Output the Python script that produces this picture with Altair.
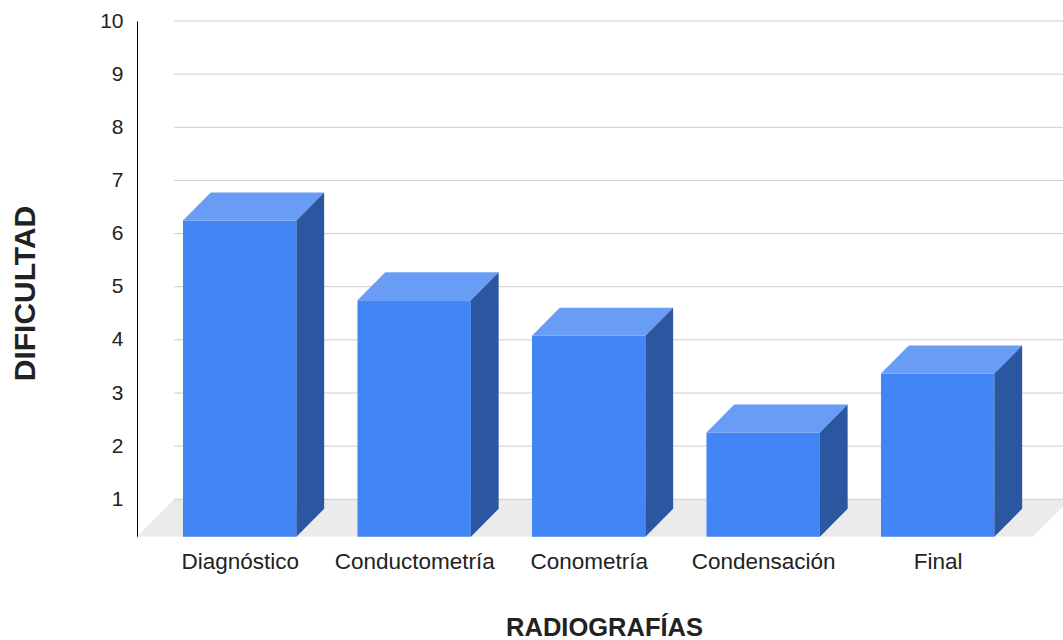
import json

import altair as alt
import pandas as pd

# Data
categories = ["Diagnóstico", "Conductometría", "Conometría", "Condensación", "Final"]
values = [5.95, 4.45, 3.78, 1.96, 3.07]
y_ticks = [1, 2, 3, 4, 5, 6, 7, 8, 9, 10]

# Oblique "3D" geometry, expressed in data units of the two scales
X_MIN, X_MAX = -0.5885, 4.7181   # category index range of the plot
FLOOR = 0.296                    # front edge of the floor on the value scale
BACK = 1.0                       # back edge of the floor / foot of the back wall
HALF = 0.325                     # half width of a bar's front face
DX, DY = 0.159, 0.527            # depth of a bar (right, up)
FDX = 0.213                      # horizontal depth of the floor
FLOOR_LEFT, FLOOR_RIGHT = X_MIN, 4.546

FONT = "Liberation Sans"
TEXT = "#222222"
FRONT_C, TOP_C, SIDE_C = "#4285f4", "#689cf5", "#2b56a0"

xs = alt.Scale(domain=[X_MIN, X_MAX], nice=False, zero=False)
ys = alt.Scale(domain=[FLOOR, 10], nice=False, zero=False)

label_expr = json.dumps(categories, ensure_ascii=False) + "[datum.value]"

x_axis = alt.Axis(
    values=list(range(len(categories))), labelExpr=label_expr,
    title="RADIOGRAFÍAS", domain=False, ticks=False, grid=False,
    labelFont=FONT, labelFontSize=22.5, labelColor=TEXT, labelPadding=14,
    labelOverlap=False, labelFlush=False,
    titleFont=FONT, titleFontSize=25.5, titleFontWeight="bold", titleColor=TEXT,
    titleX=467, titleY=99, titleAlign="center", titleBaseline="alphabetic",
)
y_axis = alt.Axis(
    values=y_ticks, title="DIFICULTAD", domain=True, domainColor="#000000",
    domainWidth=1, ticks=False, grid=False,
    labelFont=FONT, labelFontSize=21, labelColor=TEXT, labelPadding=14,
    titleFont=FONT, titleFontSize=30, titleFontWeight="bold", titleColor=TEXT,
    titleAngle=270, titleX=-112, titleY=272, titleAlign="center",
    titleBaseline="middle",
)


def xq(field="x"):
    return alt.X(f"{field}:Q", scale=xs, axis=x_axis, stack=None)


def yq(field="y"):
    return alt.Y(f"{field}:Q", scale=ys, axis=y_axis, stack=None)


# Tables built from the arrays above
front = pd.DataFrame({
    "cat": categories,
    "x": [i - HALF for i in range(len(values))],
    "x2": [i + HALF for i in range(len(values))],
    "y": [FLOOR + v for v in values],
    "y2": [FLOOR] * len(values),
})

top_rows, side_rows = [], []
for i, (c, v) in enumerate(zip(categories, values)):
    top = FLOOR + v
    top_rows.append({"cat": c, "y": top, "x": i - HALF, "x2": i + HALF})
    top_rows.append({"cat": c, "y": top + DY, "x": i - HALF + DX, "x2": i + HALF + DX})
    side_rows.append({"cat": c, "x": i + HALF, "y": top, "y2": FLOOR})
    side_rows.append({"cat": c, "x": i + HALF + DX, "y": top + DY, "y2": FLOOR + DY})
top_df = pd.DataFrame(top_rows)
side_df = pd.DataFrame(side_rows)

floor_df = pd.DataFrame({
    "y": [FLOOR, BACK],
    "x": [FLOOR_LEFT, FLOOR_LEFT + FDX],
    "x2": [FLOOR_RIGHT, FLOOR_RIGHT + FDX],
})
grid_df = pd.DataFrame({"y": y_ticks, "x": [X_MIN + FDX] * len(y_ticks), "x2": [X_MAX] * len(y_ticks)})

floor = alt.Chart(floor_df).mark_area(orient="horizontal", color="#ebebeb", clip=True).encode(
    x=xq(), x2="x2:Q", y=yq(),
)

grid = alt.Chart(grid_df).mark_rule(color="#cccccc", strokeWidth=1).encode(
    x=xq(), x2="x2:Q", y=yq(),
)

fronts = alt.Chart(front).mark_rect(color=FRONT_C).encode(
    x=xq(), x2="x2:Q", y=yq(), y2="y2:Q",
)

tops = alt.Chart(top_df).mark_area(orient="horizontal", color=TOP_C).encode(
    x=xq(), x2="x2:Q", y=yq(), detail="cat:N",
)

sides = alt.Chart(side_df).mark_area(orient="vertical", color=SIDE_C).encode(
    x=xq(), y=yq(), y2="y2:Q", detail="cat:N",
)

chart = (
    alt.layer(floor, grid, fronts, tops, sides)
    .properties(
        width=926, height=515.7,
        padding={"left": 137, "top": 21, "right": 0, "bottom": 103.3},
        autosize=alt.AutoSizeParams(type="none"),
        background="white",
    )
    .configure_view(strokeWidth=0)
)

chart.save("out.html", embed_options={"renderer": "svg", "actions": False})
